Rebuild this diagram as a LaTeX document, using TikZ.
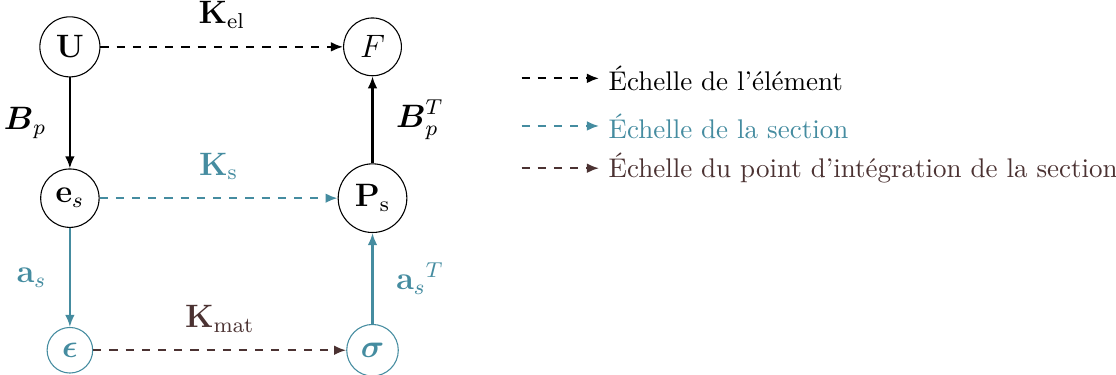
\documentclass[tikz,border=0pt]{standalone}
\usepackage{amsmath, amssymb}
\usepackage{tikz}
\usetikzlibrary{arrows, arrows.meta, positioning, quotes}

\definecolor{sectioncol}{RGB}{69,140,160}
\definecolor{pointcol}{RGB}{75,50,50}

\begin{document}
\begin{tikzpicture}
\tikzset{vertex/.style = {shape=circle,draw,font=\large,inner sep=3.2pt},
  arr/.style = {-{Latex[length=4.5pt,width=3.6pt]},thick},
  every edge quotes/.style={font=\large}}
\useasboundingbox (0,0) rectangle (14.53,4.87);
% vertices
\node[vertex] (U) at  (0.91,4.26) {$\mathbf{U}$};
\node[vertex] (F) at  (4.85,4.26) {$F$};
\node[vertex] (es) at  (0.91,2.29) {$\mathbf{e}_s$};
\node[vertex] (Ps) at  (4.85,2.29) {$\mathbf{P}_\mathrm{s}$};
\node[vertex,sectioncol] (eps) at  (0.91,0.31) {$\boldsymbol{\epsilon}$};
\node[vertex,sectioncol] (sig) at  (4.85,0.31) {$\boldsymbol{\sigma}$};

%edges
\path (U) edge[arr, dashed, "$\mathbf{K}_\mathrm{el}$" above=3pt] (F);
\path (es) edge[arr, dashed, sectioncol, "$\mathbf{K}_\mathrm{s}$" above=3pt] (Ps);
\path (eps) edge[arr, dashed, pointcol, "$\mathbf{K}_\mathrm{mat}$" above=3pt] (sig);

\path (U) edge[arr, "$\boldsymbol{B}_p$" left=5pt] (es);
\path (Ps) edge[arr, "$\boldsymbol{B}_p^T$" right=5pt] (F);
\path (es) edge[arr, sectioncol, "$\mathbf{a}_s$" left=5pt] (eps);
\path (sig) edge[arr, sectioncol, "${\mathbf{a}_s}^T$" right=5pt] (Ps);

% legend
\node[anchor=west] (leg1) at (7.8,3.85) {Échelle de l’élément};
\node[anchor=west,text=sectioncol] (leg2) at (7.8,3.23) {Échelle de la section};
\node[anchor=west,text=pointcol] (leg3) at (7.8,2.68) {Échelle du point d’intégration de la section};
\coordinate (l1) at (6.79,3.85);
\coordinate (l2) at (6.79,3.23);
\coordinate (l3) at (6.79,2.68);
\draw[arr,dashed] (l1) -- (leg1);
\draw[arr,dashed,sectioncol] (l2) -- (leg2);
\draw[arr,dashed,pointcol] (l3) -- (leg3);
\end{tikzpicture}
\end{document}
